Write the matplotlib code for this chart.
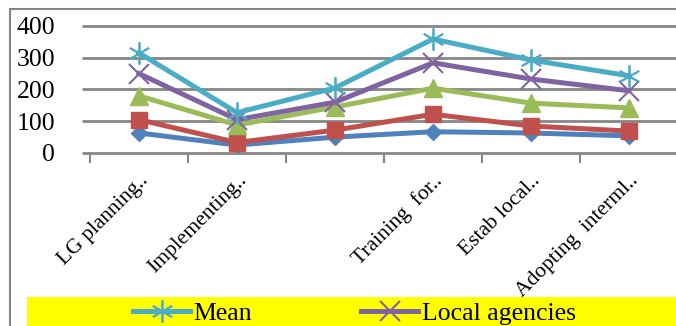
import matplotlib.pyplot as plt
from matplotlib.patches import Rectangle

plt.rcParams['font.family'] = ['Liberation Serif', 'DejaVu Serif']

categories = ['LG planning..', 'Implementing..', '', 'Training  for..', 'Estab local..', 'Adopting  interml..']
blue_vals = [63, 25, 50, 67, 63, 54]
red_vals = [105, 33, 72, 122, 85, 69]
green_vals = [180, 88, 145, 204, 157, 142]
agencies_vals = [250, 105, 160, 284, 233, 196]
mean_vals = [315, 127, 205, 359, 293, 243]
y_ticks = [0, 100, 200, 300, 400]

grid_col = '#868686'

fig = plt.figure(figsize=(6.76, 3.26), dpi=100)
ax = fig.add_axes([90 / 676, 1 - 153 / 326, 588 / 676, 127 / 326])

x = list(range(1, len(categories) + 1))
lw = 3.6
ax.plot(x, blue_vals, color='#4F81BD', lw=lw, marker='D', ms=8, mec='#4F81BD', zorder=3)
ax.plot(x, red_vals, color='#C0504D', lw=lw, marker='s', ms=12, mec='#C0504D', zorder=3)
ax.plot(x, green_vals, color='#9BBB59', lw=lw, marker='^', ms=13, mec='#9BBB59', zorder=3)
l_ag, = ax.plot(x, agencies_vals, color='#8064A2', lw=lw, marker='x', ms=14, mew=1.5,
                label='Local agencies', zorder=3)
l_mean, = ax.plot(x, mean_vals, color='#4BACC6', lw=lw, marker=(6, 2, 0), ms=16, mew=1.3,
                  label='Mean', zorder=3)

ax.set_xlim(0.5, 6.5)
ax.set_ylim(0, 400)
ax.set_yticks(y_ticks)
# gridlines + outward tick stubs (they run a little past the left edge, Excel style)
ax.hlines(y_ticks[1:], -8 / 588, 1, transform=ax.get_yaxis_transform(), colors=grid_col,
          linewidth=2.0, clip_on=False, zorder=2)
ax.hlines([0], -8 / 588, 0, transform=ax.get_yaxis_transform(), colors=grid_col,
          linewidth=2.0, clip_on=False, zorder=2)
ax.spines['left'].set_color('none')
ax.spines['right'].set_color('none')
ax.spines['top'].set_color('none')
ax.spines['bottom'].set_color(grid_col)
ax.spines['bottom'].set_linewidth(2.0)

ax.set_xticks(x)
ax.set_xticks([i + 0.5 for i in range(0, 6)], minor=True)
ax.set_xticklabels(categories, rotation=45, ha='right', va='top', rotation_mode='anchor', fontsize=15.5)
ax.tick_params(axis='x', which='major', length=0, pad=13)
ax.tick_params(axis='x', which='minor', length=7, width=1.5, color=grid_col, direction='out')
ax.tick_params(axis='y', length=0, labelsize=18.5, pad=25)

# outer chart frame (cut off at right/bottom)
fig.add_artist(Rectangle((10 / 676, -0.1), 1.2, 1 - 9 / 326 + 0.1, transform=fig.transFigure,
                         fill=False, edgecolor=grid_col, linewidth=1.5))
# yellow legend band
fig.add_artist(Rectangle((27 / 676, -0.1), 1.2, (326 - 297) / 326 + 0.1, transform=fig.transFigure,
                         facecolor='#FFFF00', edgecolor='none'))

fig.legend(handles=[l_mean, l_ag], loc='upper left', bbox_to_anchor=(123 / 676, 1 - 292 / 326),
           ncol=2, frameon=False, fontsize=18.5, handlelength=2.2, columnspacing=4.25,
           handletextpad=0.15, borderaxespad=0)

fig.savefig('out.png', dpi=100)
